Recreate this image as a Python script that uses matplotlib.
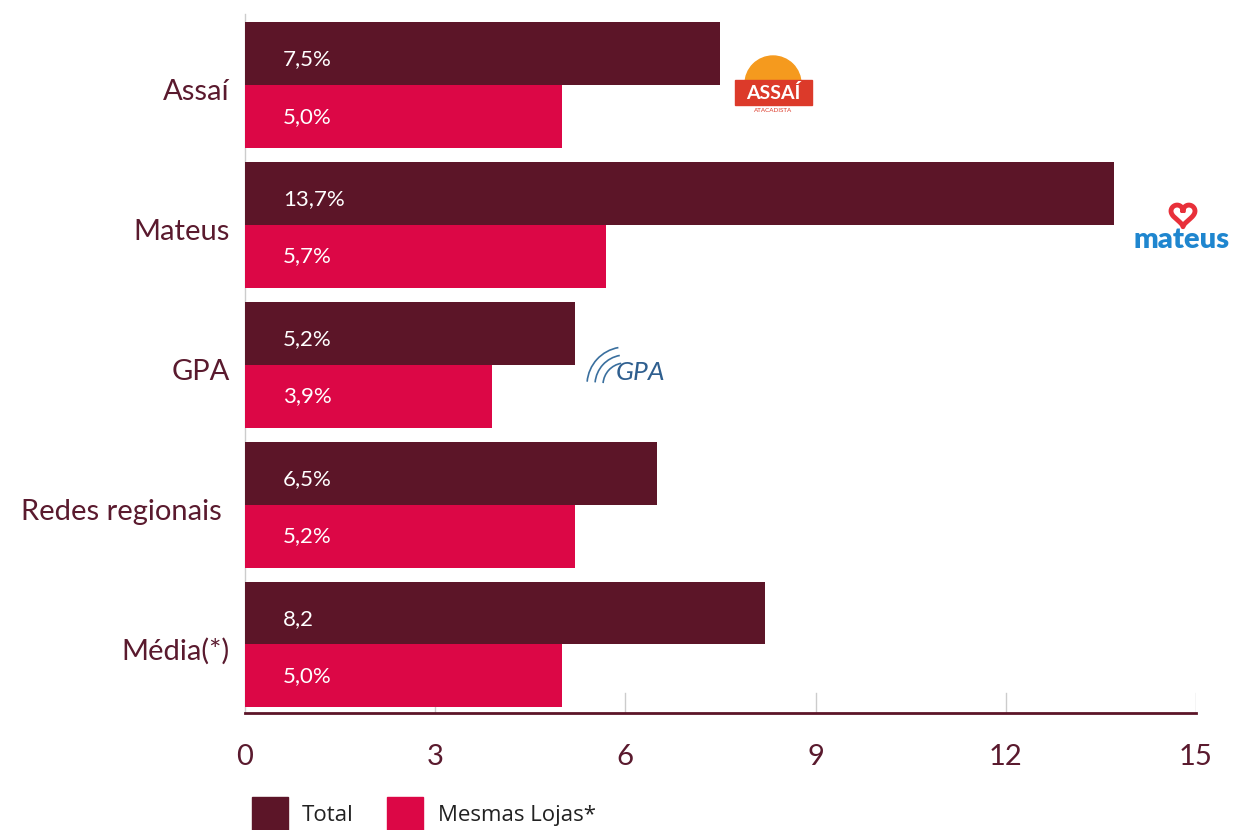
import matplotlib
matplotlib.use("Agg")
import matplotlib.pyplot as plt
from matplotlib.patches import Wedge, Rectangle, Arc
from matplotlib.lines import Line2D
import matplotlib.transforms as mtransforms
import numpy as np

categorias = ["Assaí", "Mateus", "GPA", "Redes regionais ", "Média(*)"]
total = [7.5, 13.7, 5.2, 6.5, 8.2]
mesmas_lojas = [5.0, 5.7, 3.9, 5.2, 5.0]
rot_total = ["7,5%", "13,7%", "5,2%", "6,5%", "8,2"]
rot_mesmas = ["5,0%", "5,7%", "3,9%", "5,2%", "5,0%"]
xticks = [0, 3, 6, 9, 12, 15]

cor_total = "#5c1528"
cor_mesmas = "#dc0746"
cor_texto = "#5a1a2e"

plt.rcParams['font.family'] = ['Lato', 'DejaVu Sans']

fig = plt.figure(figsize=(12.34, 8.30), dpi=100)
ax = fig.add_axes([0.1985, 0.141, 0.7707, 0.8421])

y = np.arange(len(categorias))
h = 0.45
ax.barh(y - h / 2, total, height=h, color=cor_total, zorder=3)
ax.barh(y + h / 2, mesmas_lojas, height=h, color=cor_mesmas, zorder=3)

for i in range(len(categorias)):
    ax.text(0.6, y[i] - h / 2 + 0.04, rot_total[i], color="white", fontsize=16,
            va="center", ha="left", zorder=4)
    ax.text(0.6, y[i] + h / 2, rot_mesmas[i], color="white", fontsize=16,
            va="center", ha="left", zorder=4)

ax.set_xlim(0, 15)
ax.set_ylim(4.49, -0.51)
ax.set_yticks(y)
ax.set_yticklabels([])
# category labels, a bit below the group centre like the original
lbl_tr = mtransforms.blended_transform_factory(ax.transAxes, ax.transData)
for i, c in enumerate(categorias):
    ax.text(-0.016, y[i] + 0.05, c, transform=lbl_tr, fontsize=21,
            color=cor_texto, ha="right", va="center")
ax.set_xticks(xticks)
ax.set_xticklabels([str(v) for v in xticks], fontsize=21, color=cor_texto)
ax.tick_params(axis="y", length=0)
ax.tick_params(axis="x", length=0, pad=22)

# short light ticks inside the axis
for v in xticks[1:]:
    ax.plot([v, v], [4.49, 4.35], color="#cccccc", lw=1, zorder=1)

for s in ["top", "right"]:
    ax.spines[s].set_visible(False)
ax.spines["left"].set_color("#cccccc")
ax.spines["left"].set_linewidth(1)
ax.spines["bottom"].set_color(cor_total)
ax.spines["bottom"].set_linewidth(2)

# legend
def px(xp, yp):
    return xp / 100, (830 - yp) / 100

tr = fig.dpi_scale_trans
fig.add_artist(Rectangle(px(252, 831), 0.36, 0.34, transform=tr, color=cor_total))
fig.text(302 / 1234, 1 - 815 / 830, "Total", fontsize=16, color="#222222",
         va="center", family="Open Sans")
fig.add_artist(Rectangle(px(387, 831), 0.36, 0.34, transform=tr, color=cor_mesmas))
fig.text(438 / 1234, 1 - 815 / 830, "Mesmas Lojas*", fontsize=16, color="#222222",
         va="center", family="Open Sans")

# logo Assaí
fig.add_artist(Wedge(px(773, 84), 0.28, 0, 180, transform=tr, color="#f59a1e"))
fig.add_artist(Rectangle(px(735, 105), 0.77, 0.25, transform=tr, color="#dc3a2a"))
fig.text(773 / 1234, 1 - 93 / 830, "ASSAÍ", fontsize=14, fontweight="bold",
         color="white", ha="center", va="center")
fig.text(773 / 1234, 1 - 111 / 830, "ATACADISTA", fontsize=4.5, color="#dc3a2a",
         ha="center", va="center")

# logo Mateus: heart outline
t = np.linspace(0, 2 * np.pi, 200)
hx = 16 * np.sin(t) ** 3
hy = 13 * np.cos(t) - 5 * np.cos(2 * t) - 2 * np.cos(3 * t) - np.cos(4 * t)
cx, cy = px(1183, 214)
fig.add_artist(Line2D(cx + hx * 0.0075, cy + hy * 0.0075, transform=tr,
                      color="#e8303a", lw=3.5))
fig.text(1182 / 1234, 1 - 240 / 830, "mateus", fontsize=21, fontweight="heavy",
         color="#1f86cf", ha="center", va="center")

# logo GPA
for r in [0.22, 0.30, 0.38]:
    fig.add_artist(Arc(px(625, 385), r * 2, r * 2, theta1=100, theta2=175,
                       transform=tr, color="#3a6f9e", lw=1.2))
fig.text(640 / 1234, 1 - 372 / 830, "GPA", fontsize=19, fontstyle="italic",
         color="#2f5f8f", ha="center", va="center")

fig.savefig("out.png", dpi=100)
